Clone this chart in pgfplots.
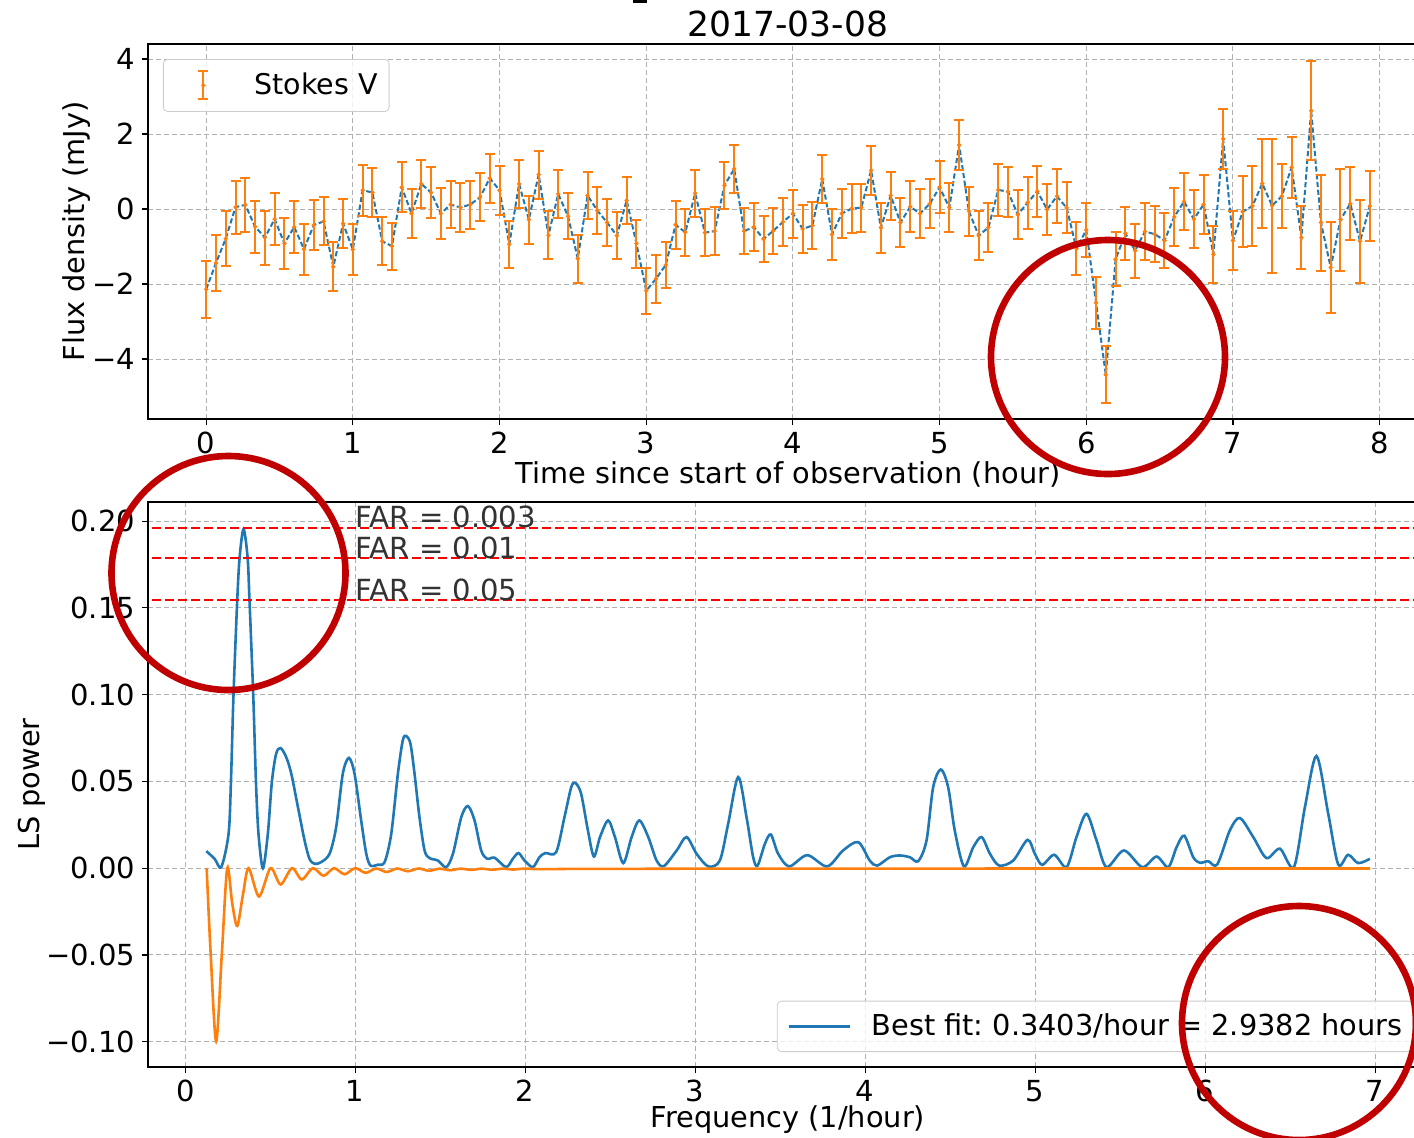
\documentclass[border=0pt]{standalone}
\usepackage{fontspec}
\setmainfont{DejaVu Sans}
\usepackage{pgfplots}
\usepackage{pgfplotstable}
\pgfplotsset{compat=1.18}

\definecolor{mplblue}{HTML}{1F77B4}
\definecolor{mplorange}{HTML}{FF7F0E}
\definecolor{gridgray}{HTML}{B0B0B0}
\definecolor{markred}{HTML}{C00000}

\newcommand{\tickfont}{\fontsize{14.5pt}{17pt}\selectfont}
\newcommand{\labelfont}{\fontsize{14.4pt}{17pt}\selectfont}

% Stokes V light curve: time (hour), flux density (mJy), 1-sigma error
\pgfplotstableread{
t v e
0.0000 -2.14 0.76
0.0667 -1.44 0.74
0.1333 -0.79 0.74
0.2000 0.05 0.71
0.2667 0.11 0.71
0.3333 -0.47 0.69
0.4000 -0.76 0.72
0.4667 -0.27 0.69
0.5333 -0.92 0.68
0.6000 -0.48 0.70
0.6667 -1.07 0.68
0.7333 -0.43 0.67
0.8000 -0.33 0.64
0.8667 -1.54 0.65
0.9333 -0.39 0.66
1.0000 -1.08 0.68
1.0667 0.50 0.68
1.1333 0.44 0.66
1.2000 -0.86 0.64
1.2667 -0.99 0.63
1.3333 0.58 0.67
1.4000 -0.12 0.65
1.4667 0.67 0.65
1.5333 0.44 0.67
1.6000 -0.12 0.67
1.6667 0.12 0.63
1.7333 0.04 0.65
1.8000 0.12 0.64
1.8667 0.31 0.64
1.9333 0.82 0.65
2.0000 0.50 0.66
2.0667 -0.94 0.63
2.1333 0.67 0.63
2.2000 -0.28 0.64
2.2667 0.92 0.64
2.3333 -0.70 0.64
2.4000 0.40 0.63
2.4667 -0.19 0.62
2.5333 -1.32 0.64
2.6000 0.36 0.63
2.6667 -0.04 0.63
2.7333 -0.36 0.62
2.8000 -0.71 0.62
2.8667 0.23 0.63
2.9333 -0.92 0.64
3.0000 -2.18 0.62
3.0667 -1.86 0.64
3.1333 -1.49 0.62
3.2000 -0.42 0.64
3.2667 -0.62 0.63
3.3333 0.42 0.63
3.4000 -0.63 0.62
3.4667 -0.59 0.64
3.5333 0.63 0.63
3.6000 1.07 0.64
3.6667 -0.59 0.62
3.7333 -0.48 0.65
3.8000 -0.80 0.62
3.8667 -0.58 0.62
3.9333 -0.34 0.64
4.0000 -0.12 0.64
4.0667 -0.53 0.63
4.1333 -0.44 0.63
4.2000 0.80 0.64
4.2667 -0.68 0.68
4.3333 -0.12 0.66
4.4000 0.01 0.65
4.4667 0.04 0.64
4.5333 1.03 0.65
4.6000 -0.50 0.66
4.6667 0.36 0.64
4.7333 -0.36 0.66
4.8000 0.06 0.68
4.8667 -0.12 0.65
4.9333 0.14 0.65
5.0000 0.58 0.69
5.0667 0.04 0.66
5.1333 1.71 0.66
5.2000 -0.06 0.66
5.2667 -0.71 0.65
5.3333 -0.49 0.66
5.4000 0.51 0.69
5.4667 0.46 0.66
5.5333 -0.15 0.65
5.6000 0.17 0.69
5.6667 0.47 0.69
5.7333 -0.01 0.68
5.8000 0.34 0.72
5.8667 0.03 0.68
5.9333 -1.06 0.71
6.0000 -0.56 0.73
6.0667 -2.50 0.69
6.1333 -4.42 0.76
6.2000 -1.34 0.72
6.2667 -0.65 0.71
6.3333 -1.11 0.72
6.4000 -0.60 0.76
6.4667 -0.67 0.74
6.5333 -0.84 0.73
6.6000 -0.21 0.78
6.6667 0.20 0.75
6.7333 -0.27 0.78
6.8000 0.12 0.78
6.8667 -1.21 0.77
6.9333 1.87 0.79
7.0000 -0.84 0.79
7.0667 -0.07 0.94
7.1333 0.08 1.06
7.2000 0.68 1.18
7.2667 0.09 1.79
7.3333 0.34 0.85
7.4000 1.11 0.82
7.4667 -0.76 0.85
7.5333 2.62 1.32
7.6000 -0.36 1.28
7.6667 -1.56 1.22
7.7333 -0.28 1.36
7.8000 0.14 0.97
7.8667 -0.86 1.10
7.9333 0.08 0.94
}\stokes

% Lomb-Scargle power of the light curve
\pgfplotstableread{
f p
0.124 0.0098
0.173 0.0054
0.212 0.0006
0.255 0.0198
0.269 0.0500
0.284 0.1000
0.306 0.1545
0.320 0.1790
0.343 0.1954
0.367 0.1790
0.378 0.1545
0.400 0.1000
0.416 0.0500
0.431 0.0198
0.457 0.0000
0.486 0.0198
0.510 0.0500
0.535 0.0660
0.561 0.0692
0.594 0.0640
0.624 0.0544
0.663 0.0352
0.702 0.0160
0.731 0.0054
0.761 0.0025
0.800 0.0035
0.849 0.0083
0.888 0.0237
0.927 0.0544
0.963 0.0635
0.996 0.0544
1.035 0.0275
1.065 0.0083
1.090 0.0015
1.133 0.0020
1.173 0.0035
1.212 0.0198
1.251 0.0544
1.280 0.0737
1.300 0.0762
1.325 0.0717
1.349 0.0544
1.378 0.0294
1.408 0.0102
1.437 0.0058
1.486 0.0044
1.535 0.0006
1.575 0.0083
1.624 0.0294
1.663 0.0358
1.702 0.0275
1.741 0.0102
1.776 0.0054
1.820 0.0060
1.888 0.0006
1.927 0.0054
1.961 0.0087
1.996 0.0044
2.045 0.0006
2.084 0.0063
2.118 0.0087
2.182 0.0092
2.231 0.0294
2.271 0.0467
2.296 0.0490
2.329 0.0429
2.369 0.0217
2.404 0.0067
2.440 0.0179
2.488 0.0275
2.528 0.0179
2.577 0.0029
2.626 0.0179
2.671 0.0275
2.724 0.0179
2.773 0.0044
2.816 0.0012
2.891 0.0102
2.949 0.0179
3.008 0.0083
3.077 0.0010
3.145 0.0044
3.194 0.0256
3.253 0.0525
3.302 0.0294
3.341 0.0063
3.367 0.0015
3.410 0.0140
3.445 0.0194
3.488 0.0083
3.553 0.0010
3.659 0.0075
3.776 0.0010
3.870 0.0102
3.959 0.0150
4.027 0.0044
4.071 0.0015
4.145 0.0063
4.204 0.0073
4.263 0.0063
4.312 0.0040
4.361 0.0160
4.400 0.0467
4.445 0.0569
4.488 0.0467
4.527 0.0217
4.581 0.0010
4.636 0.0121
4.685 0.0179
4.734 0.0083
4.788 0.0015
4.871 0.0044
4.955 0.0163
4.998 0.0083
5.041 0.0019
5.112 0.0077
5.185 0.0006
5.243 0.0179
5.302 0.0313
5.361 0.0160
5.420 0.0006
5.522 0.0102
5.630 0.0006
5.714 0.0067
5.783 0.0006
5.832 0.0121
5.877 0.0187
5.930 0.0063
5.969 0.0031
6.018 0.0040
6.071 0.0021
6.145 0.0217
6.204 0.0289
6.283 0.0179
6.361 0.0058
6.440 0.0112
6.522 0.0006
6.587 0.0352
6.655 0.0646
6.724 0.0314
6.783 0.0021
6.841 0.0077
6.900 0.0029
6.969 0.0054
}\lspower

% Window function (plotted inverted)
\pgfplotstableread{
f p
0.126 0.0000
0.150 -0.0500
0.182 -0.0998
0.215 -0.0500
0.247 0.0000
0.276 -0.0200
0.306 -0.0333
0.340 -0.0150
0.373 0.0000
0.434 -0.0163
0.502 0.0000
0.561 -0.0094
0.628 0.0000
0.686 -0.0065
0.751 0.0000
0.814 -0.0044
0.875 0.0000
0.937 -0.0035
1.000 0.0000
1.061 -0.0027
1.123 -0.0002
1.185 -0.0022
1.247 -0.0002
1.310 -0.0018
1.372 -0.0002
1.434 -0.0015
1.496 -0.0003
1.558 -0.0012
1.620 -0.0003
1.682 -0.0010
1.744 -0.0003
1.806 -0.0009
1.868 -0.0003
1.930 -0.0008
1.992 -0.0003
2.100 -0.0006
2.300 -0.0004
2.600 -0.0004
3.000 -0.0003
4.000 -0.0003
5.000 -0.0002
6.000 -0.0002
6.970 -0.0002
}\window

\pgfplotsset{
  mplaxis/.style={
    scale only axis,
    width=640pt,
    axis line style={black, line width=0.6pt},
    grid=major,
    major grid style={gridgray, line width=0.5pt, dash pattern=on 2.5pt off 1.5pt},
    tick align=outside,
    tick pos=left,
    major tick length=3pt,
    tick style={black, line width=0.6pt},
    ticklabel style={font=\tickfont},
    label style={font=\labelfont},
    scaled ticks=false,
    legend cell align=left,
  },
}

\begin{document}
\frenchspacing
\begin{tikzpicture}

% ---------- light curve ----------
\begin{axis}[mplaxis,
  at={(74pt,-22pt)}, anchor=north west,
  height=187.5pt,
  xmin=-0.3967, xmax=8.33, ymin=-5.6, ymax=4.4,
  xtick={0,1,2,3,4,5,6,7,8},
  xticklabels={0,1,2,3,4,5,6,7,8},
  ytick={-4,-2,0,2,4},
  yticklabels={−4,−2,0,2,4},
  xlabel={Time since start of observation (hour)},
  ylabel={Flux density (mJy)},
  xlabel style={at={(axis description cs:0.5,-0.1467)}, anchor=center},
  ylabel style={at={(axis description cs:-0.0555,0.5)}, anchor=center},
  legend style={at={(0,1)}, anchor=north west, xshift=7.5pt, yshift=-7.5pt,
    draw=black!20, rounded corners=2pt, fill=white, fill opacity=0.8, text opacity=1,
    inner xsep=5.7pt, inner ysep=5.5pt,
    nodes={inner sep=0pt},
    font=\fontsize{14.25pt}{17pt}\selectfont},
]
\addplot[mplblue, line width=1pt, dash pattern=on 2.6pt off 1.3pt, forget plot]
  table[x=t, y=v]{\stokes};
\addplot[mplorange, only marks, mark=*, mark size=0.9pt,
  error bars/.cd, y dir=both, y explicit,
  error bar style={mplorange, line width=1pt},
  error mark options={rotate=90, mplorange, mark size=2.5pt, line width=1pt},
  /pgfplots/legend image code/.code={
    \path[draw=none, fill=none] (0pt,0pt) (39.9pt,0pt);
    \draw[mplorange, line width=1pt] (14.25pt,-7pt) -- (14.25pt,7pt);
    \draw[mplorange, line width=1pt] (11.75pt,-7pt) -- (16.75pt,-7pt)
                                     (11.75pt,7pt) -- (16.75pt,7pt);
    \fill[mplorange] (14.25pt,0pt) circle (0.9pt);
  },
  ]
  table[x=t, y=v, y error=e]{\stokes};
\addlegendentry{Stokes V}
\end{axis}

% ---------- periodogram ----------
\begin{axis}[mplaxis,
  at={(74pt,-251pt)}, anchor=north west,
  height=282.5pt,
  xmin=-0.219, xmax=7.311, ymin=-0.1146, ymax=0.211,
  xtick={0,1,2,3,4,5,6,7},
  xticklabels={0,1,2,3,4,5,6,7},
  ytick={-0.1,-0.05,0,0.05,0.1,0.15,0.2},
  yticklabels={−0.10,−0.05,0.00,0.05,0.10,0.15,0.20},
  xlabel={Frequency (1/hour)},
  ylabel={LS power},
  xlabel style={at={(axis description cs:0.5,-0.0938)}, anchor=center},
  ylabel style={at={(axis description cs:-0.0906,0.5)}, anchor=center},
  legend style={at={(1,0)}, anchor=south east, xshift=-7.5pt, yshift=7.5pt,
    draw=black!20, rounded corners=2pt, fill=white, fill opacity=0.8, text opacity=1,
    inner xsep=5pt, inner ysep=6.4pt,
    nodes={inner sep=0pt},
    font=\fontsize{14.4pt}{17pt}\selectfont},
]
\addplot[mplblue, line width=1.3pt, smooth,
  legend image code/.code={
    \path[draw=none, fill=none] (0pt,0pt) (41.5pt,0pt);
    \draw[mplblue, line width=1.3pt] (0pt,0pt) -- (30.5pt,0pt);
  }]
  table[x=f, y=p]{\lspower};
\addlegendentry{Best fit: 0.3403/hour = 2.9382 hours}
\addplot[mplorange, line width=1.3pt, smooth, forget plot]
  table[x=f, y=p]{\window};
% false-alarm-rate levels
\addplot[red, line width=1pt, dash pattern=on 4.5pt off 2pt, forget plot]
  coordinates {(-0.5,0.1962) (7.5,0.1962)};
\addplot[red, line width=1pt, dash pattern=on 4.5pt off 2pt, forget plot]
  coordinates {(-0.5,0.1787) (7.5,0.1787)};
\addplot[red, line width=1pt, dash pattern=on 4.5pt off 2pt, forget plot]
  coordinates {(-0.5,0.1545) (7.5,0.1545)};
\node[anchor=base west, inner sep=0pt, text=black!80, font=\fontsize{14.55pt}{17pt}\selectfont]
  at (axis cs:1.0,0.1962) {FAR = 0.003};
\node[anchor=base west, inner sep=0pt, text=black!80, font=\fontsize{14.55pt}{17pt}\selectfont]
  at (axis cs:1.0,0.1787) {FAR = 0.01};
\node[anchor=base west, inner sep=0pt, text=black!80, font=\fontsize{14.55pt}{17pt}\selectfont]
  at (axis cs:1.0,0.1545) {FAR = 0.05};
\end{axis}

% title (second line) and the tail of the first line
\node[font=\fontsize{17.25pt}{20pt}\selectfont, inner sep=0pt] at (394pt,-12pt) {2017-03-08};
\fill (316.5pt,0pt) rectangle (323.5pt,-1.5pt);

% highlight rings
\draw[markred, line width=3.3pt] (554pt,-178.5pt) circle (58.5pt);
\draw[markred, line width=3.3pt] (114.25pt,-286.5pt) circle (58.5pt);
\draw[markred, line width=3.3pt] (649.5pt,-511.5pt) circle (58.5pt);

\pgfresetboundingbox
\useasboundingbox (0pt,0pt) rectangle (707pt,-568.5pt);
\end{tikzpicture}
\end{document}
